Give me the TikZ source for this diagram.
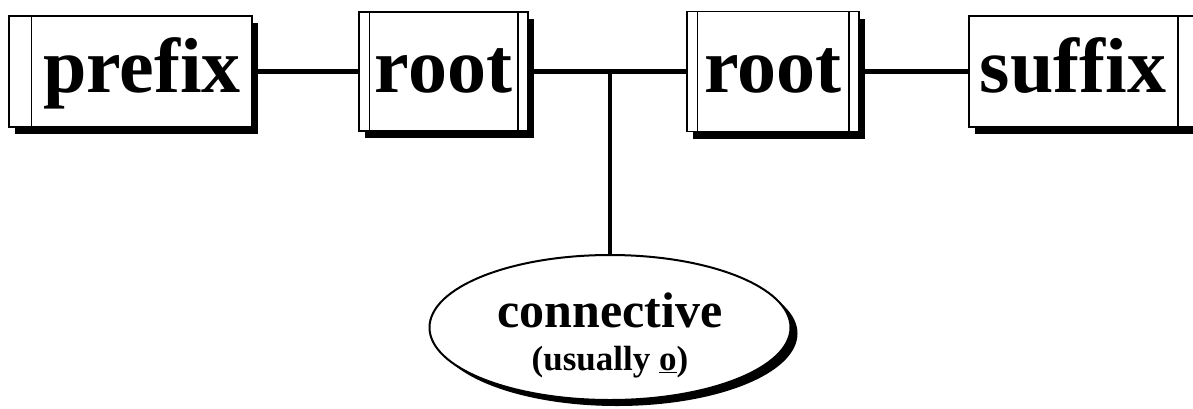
\documentclass[tikz,border=0pt]{standalone}
\usepackage{fontspec}
\setmainfont{Liberation Serif}
\usetikzlibrary{shapes.geometric,shadows}
\tikzset{
  morph/.style={draw, line width=1.5pt, fill=white, inner sep=0pt,
    text height=55pt, text depth=14pt,
    font=\bfseries\fontsize{78}{80}\selectfont,
    drop shadow={shadow xshift=6pt, shadow yshift=-7pt, fill=black, opacity=1}},
  link/.style={line width=4.5pt},
  bar/.style={line width=1.5pt},
  connshape/.style={ellipse, draw, line width=2pt, fill=white, inner sep=0pt,
    minimum width=361pt, minimum height=145pt,
    drop shadow={shadow xshift=7pt, shadow yshift=-6pt, fill=black, opacity=1}},
}
\begin{document}
\begin{tikzpicture}[x=1pt, y=-1pt]
\clip (0,0) rectangle (1193,408);
\fill[white] (0,0) rectangle (1193,408);
% boxes
\node[morph, minimum width=243pt, minimum height=111pt] (prefix) at (130.5,71.5) {\hspace*{23pt}prefix};
\node[morph, minimum width=169pt, minimum height=119pt] (root1) at (443.5,71.5) {root};
\node[morph, minimum width=172pt, minimum height=120pt] (root2) at (773,71.5) {root};
\node[morph, minimum width=231pt, minimum height=111pt] (suffix) at (1084.5,71.5) {suffix\hspace*{23pt}};
% inner bars
\draw[bar] ([xshift=23pt]prefix.north west) -- ([xshift=23pt]prefix.south west);
\draw[bar] ([xshift=11pt]root1.north west) -- ([xshift=11pt]root1.south west);
\draw[bar] ([xshift=-11pt]root1.north east) -- ([xshift=-11pt]root1.south east);
\draw[bar] ([xshift=11pt]root2.north west) -- ([xshift=11pt]root2.south west);
\draw[bar] ([xshift=-11pt]root2.north east) -- ([xshift=-11pt]root2.south east);
\draw[bar] ([xshift=-23pt]suffix.north east) -- ([xshift=-23pt]suffix.south east);
% connective ellipse
\node[connshape] (conn) at (610,327.5) {};
\node[anchor=base, font=\bfseries\fontsize{50}{52}\selectfont] (connword) at (610,327) {connective};
\node[anchor=base, font=\bfseries\fontsize{35}{37}\selectfont] (connnote) at (610,370) {(usually \underline{o})};
% connectors
\coordinate (junc) at (conn.north |- root1.east);
\draw[link] (prefix) -- (root1);
\draw[link] (root1) -- (root2);
\draw[link] (root2) -- (suffix);
\draw[link] (junc) -- (conn.north);
\end{tikzpicture}
\end{document}
